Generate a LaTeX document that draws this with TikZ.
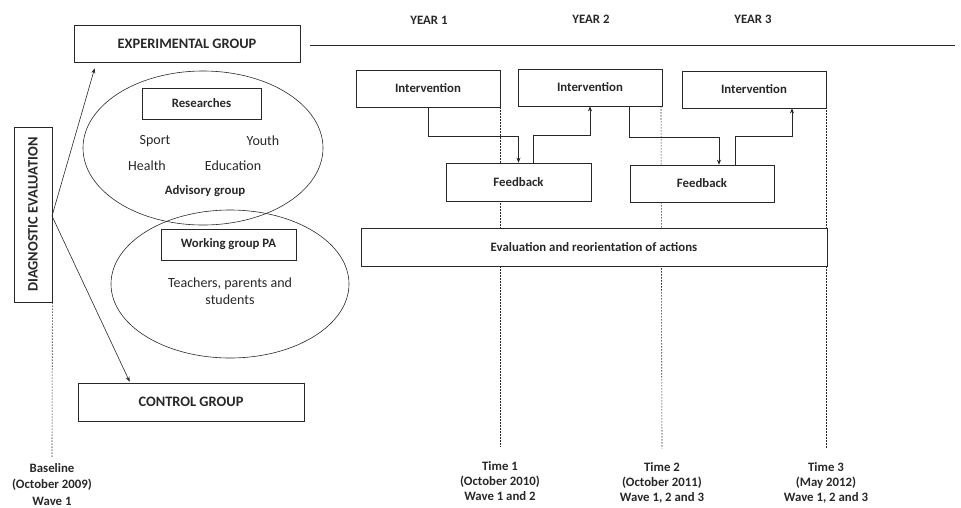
\documentclass[tikz,border=0pt]{standalone}
\usepackage{fontspec}
\setmainfont{Carlito}
\usetikzlibrary{arrows.meta,positioning,shapes.geometric}
\definecolor{ink}{RGB}{40,40,40}
\tikzset{
  box/.style={rectangle,draw=ink,fill=white,line width=0.7pt,inner sep=0pt,
    font=\fontsize{12.8}{15}\selectfont\bfseries},
  bigbox/.style={box,font=\fontsize{14.4}{16}\selectfont\bfseries},
  oval/.style={ellipse,draw=ink,line width=0.6pt,inner sep=0pt},
  arr/.style={-{Stealth[length=5pt,width=4pt]},draw=ink,line width=0.6pt},
  elb/.style={draw=ink,line width=0.6pt},
  tick/.style={draw=ink,line width=0.6pt,dash pattern=on 1.6pt off 1.4pt},
  lbl/.style={font=\fontsize{12.8}{15}\selectfont\bfseries,align=center,inner sep=0pt},
  plain/.style={inner sep=0pt,font=\fontsize{14}{16.5}\selectfont},
}
\begin{document}
\begin{tikzpicture}[x=1pt,y=-1pt,text=ink]
\useasboundingbox (0,0) rectangle (961,507);
% left part: groups
\node[bigbox,minimum width=226pt,minimum height=37pt] (expg) at (187,43.5) {EXPERIMENTAL GROUP};
\node[bigbox,minimum width=226pt,minimum height=38pt] (ctrl) at (191,402) {CONTROL GROUP};
\node[bigbox,rotate=90,minimum width=175pt,minimum height=38pt] (diag) at (33,214.5) {DIAGNOSTIC EVALUATION};
\coordinate (dg) at (52,216);
\draw[arr] (dg) -- ([xshift=21pt,yshift=-6pt]expg.south west);
\draw[arr] (dg) -- ([xshift=52pt,yshift=1pt]ctrl.north west);
% ovals
\node[oval,minimum width=240pt,minimum height=154pt] (adv) at (203,148) {};
\node[oval,minimum width=238pt,minimum height=148pt] (wrk) at (230,284) {};
\node[box,minimum width=119pt,minimum height=31pt,fill=none] (res) at (201.5,103.5) {Researches};
\node[plain] (sport) at (155,141) {Sport};
\node[plain] (youth) at (263,141) {Youth};
\node[plain] (health) at (147,166) {Health};
\node[plain] (educ) at (233,166) {Education};
\node[lbl] (advg) at (205,191) {Advisory group};
\node[box,minimum width=135pt,minimum height=31pt,fill=none] (wpa) at (228.5,244.5) {Working group PA};
\node[plain,align=center] (tps) at (230,291) {Teachers, parents and\\students};
% timeline
\draw[elb] (310,45) -- (955,45);
\node[lbl] (y1) at (429,20) {YEAR 1};
\node[lbl] (y2) at (591,19) {YEAR 2};
\node[lbl] (y3) at (753,19) {YEAR 3};
\node[lbl,font=\fontsize{12.8}{16.5}\selectfont\bfseries] (t0) at (52,484.5) {Baseline\\(October 2009)\\Wave 1};
\node[lbl] (t1) at (500,481) {Time 1\\(October 2010)\\Wave 1 and 2};
\node[lbl] (t2) at (662,483) {Time 2\\(October 2011)\\Wave 1, 2 and 3};
\node[lbl] (t3) at (826,483) {Time 3\\(May 2012)\\Wave 1, 2 and 3};
\coordinate (int1t) at (500,107);
\coordinate (int2t) at (661,106);
\coordinate (int3t) at (826,71);
\draw[tick] (int1t) -- ([yshift=14pt]t1.north);
\draw[tick] (int2t) -- ([yshift=14pt]t2.north);
\draw[tick] (int3t) -- ([yshift=14pt]t3.north);
\draw[tick] (diag.south west) -- ([yshift=6pt]t0.north);
% boxes over the ticks
\node[box,minimum width=144pt,minimum height=37pt] (int1) at (428,88.5) {Intervention};
\node[box,minimum width=144pt,minimum height=37pt] (int2) at (590,87.5) {Intervention};
\node[box,minimum width=144pt,minimum height=37pt] (int3) at (754,89.5) {Intervention};
\node[box,minimum width=145pt,minimum height=38pt] (fb1) at (518.5,182) {Feedback};
\node[box,minimum width=144pt,minimum height=37pt] (fb2) at (702,183.5) {Feedback};
\node[box,minimum width=466pt,minimum height=38pt] (evl) at (594,247) {Evaluation and reorientation of actions};
% feedback loops
\draw[arr] (int1.south) -- ++(0,29) -| (fb1.north);
\draw[arr] ([xshift=15pt]fb1.north) -- ++(0,-27) -| (int2.south);
\draw[arr] ([xshift=39pt]int2.south) -- ++(0,31) -| ([xshift=17pt]fb2.north);
\draw[arr] ([xshift=33pt]fb2.north) -- ++(0,-28) -| ([xshift=38pt]int3.south);
\end{tikzpicture}
\end{document}
